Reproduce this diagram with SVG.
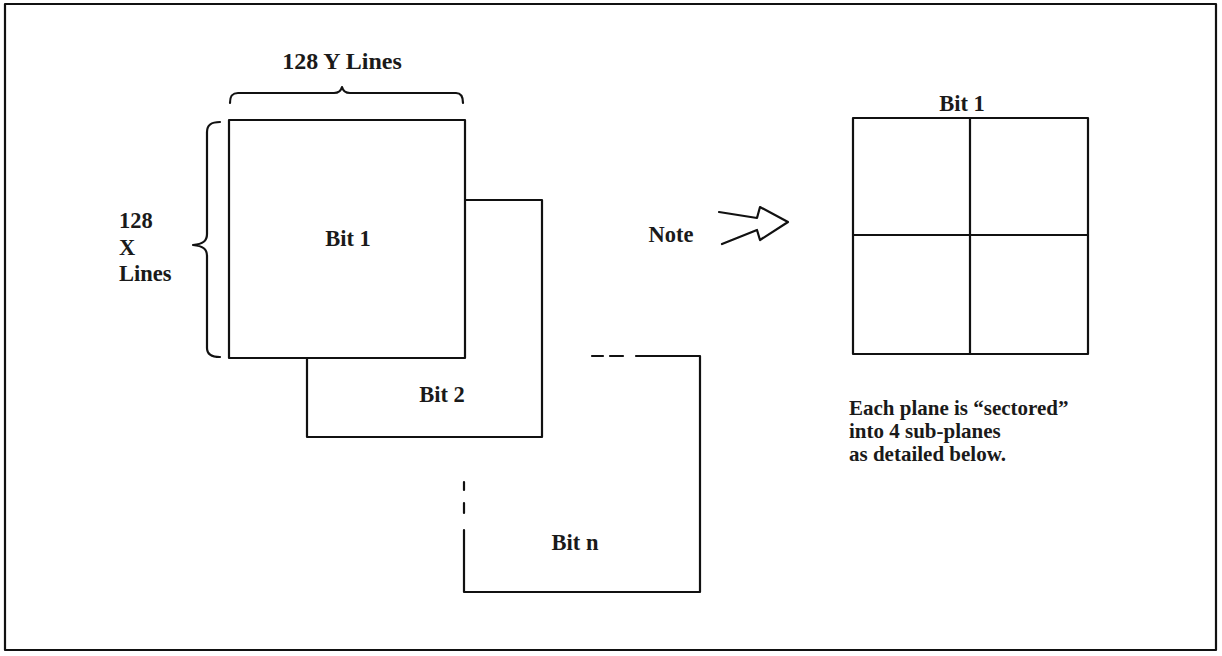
<svg xmlns="http://www.w3.org/2000/svg" width="1222" height="656" viewBox="0 0 1222 656">
<style>
.ln{fill:none;stroke:#111;stroke-width:2.2;stroke-linejoin:round;stroke-linecap:round}
.t{font-family:"Liberation Serif","Times New Roman",serif;font-weight:bold;fill:#1a1a1a;font-size:22.5px}
.c{font-size:21px}
.y{font-size:24px}
.m{text-anchor:middle}
</style>
<rect width="1222" height="656" fill="#fff"/>
<g id="frame"><rect x="5" y="4" width="1211" height="646" class="ln" stroke-width="2"/></g>
<g id="bitn">
<path class="ln" d="M636,356 H700 V592 H464 V530"/>
<path class="ln" d="M592,356 H603 M610,356 H623"/>
<path class="ln" d="M464,482 V490 M464,503 V513"/>
<text class="t m" x="575" y="550">Bit n</text>
</g>
<g id="bit2">
<path class="ln" d="M465,200 H542 V437 H307 V358"/>
<text class="t m" x="442" y="402">Bit 2</text>
</g>
<g id="bit1">
<rect class="ln" x="229" y="120" width="236" height="238"/>
<text class="t m" x="348" y="246">Bit 1</text>
</g>
<g id="ybrace">
<path class="ln" d="M230,103 C230,96 232,93 238,93 H334 C339,93 341,91 342,87 C343,91 345,93 350,93 H456 C461,93 463,96 463,103"/>
<text class="t y m" x="342" y="69">128 Y Lines</text>
</g>
<g id="xbrace">
<path class="ln" d="M220,122 C212,122 207,124 207,132 V234 C207,241 203,244 193,245 C203,246 207,249 207,256 V348 C207,355 212,357 220,357"/>
<text class="t" x="119" y="228">128</text>
<text class="t" x="119" y="255">X</text>
<text class="t" x="119" y="281">Lines</text>
</g>
<g id="note">
<text class="t m" x="671" y="242">Note</text>
<path class="ln" d="M719,212 L757,218 L760,207 L788,222 L760,240 L757,230 L722,244"/>
</g>
<g id="detail">
<text class="t m" x="962" y="111">Bit 1</text>
<rect class="ln" x="853" y="118" width="235" height="236"/>
<path class="ln" d="M970,118 V354 M853,235 H1088"/>
<text class="t c" x="849" y="415">Each plane is “sectored”</text>
<text class="t c" x="849" y="438">into 4 sub-planes</text>
<text class="t c" x="849" y="461">as detailed below.</text>
</g>
</svg>
